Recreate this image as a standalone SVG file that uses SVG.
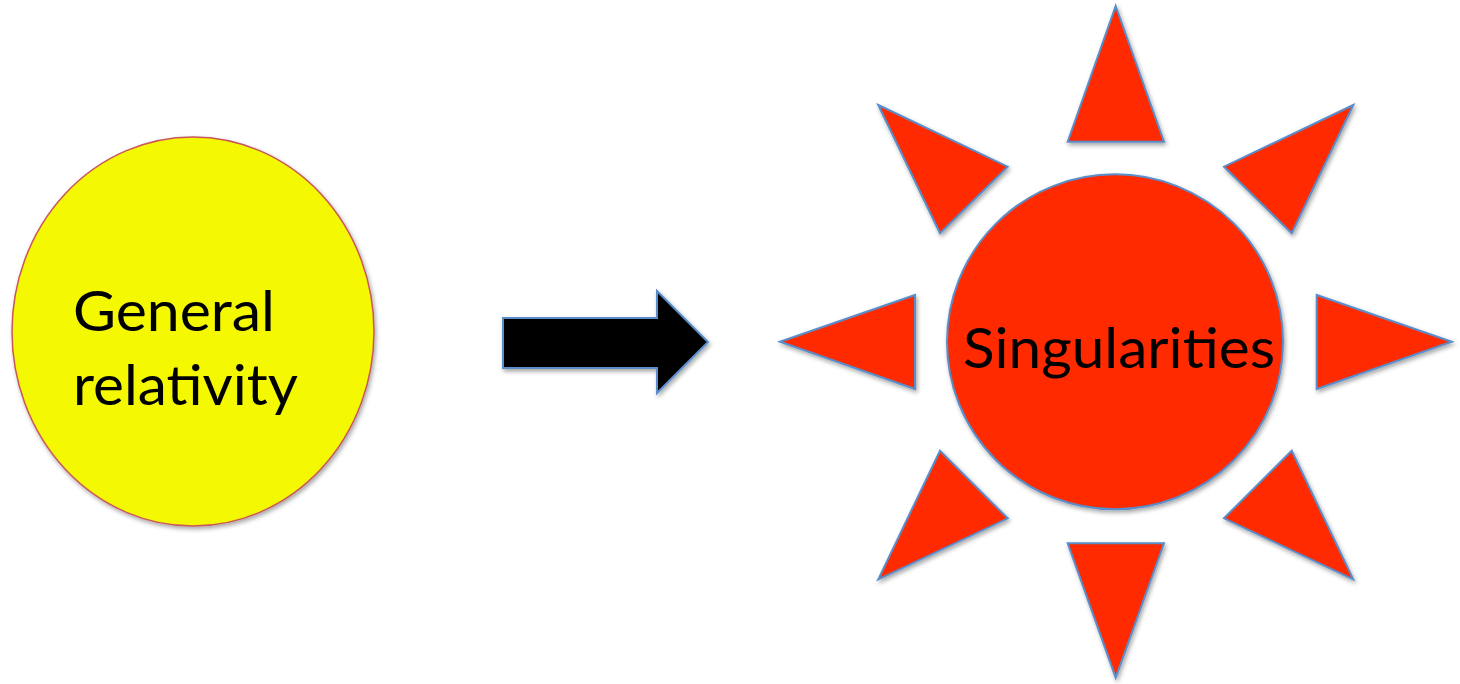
<svg xmlns="http://www.w3.org/2000/svg" width="1460" height="684" viewBox="0 0 1460 684">
  <defs>
    <filter id="shadow" x="-10%" y="-10%" width="130%" height="130%">
      <feDropShadow dx="1.5" dy="2.5" stdDeviation="2" flood-color="#000" flood-opacity="0.35"/>
    </filter>
  </defs>
  <style>
    .ray { fill: #ff2a00; stroke: #5a8ecb; stroke-width: 2; stroke-linejoin: miter; filter: url(#shadow); }
    .lbl { font-family: Lato, "Liberation Sans", Arial, sans-serif; font-size: 57px; fill: #000; }
  </style>
  <rect width="1460" height="684" fill="#ffffff"/>

  <g id="general-relativity">
    <ellipse cx="193" cy="331.5" rx="181" ry="194.5" fill="#f4f800" stroke="#c8575a" stroke-width="1.5" filter="url(#shadow)"/>
    <text class="lbl" x="73" y="331" textLength="202" lengthAdjust="spacingAndGlyphs">General</text>
    <text class="lbl" x="73" y="405" textLength="225" lengthAdjust="spacingAndGlyphs">relativity</text>
  </g>

  <g id="connectors">
    <polygon id="arrow" points="503,318 657,318 657,291 708,342 657,393 657,368 503,368" fill="#000" stroke="#5a8ecb" stroke-width="2" filter="url(#shadow)"/>
  </g>

  <g id="singularities">
    <polygon class="ray" points="1115.7,6 1164,141.7 1067.7,141.7"/>
    <polygon class="ray" points="878.3,105 1007.7,166.7 940,233.3"/>
    <polygon class="ray" points="1353.3,105 1224,166.7 1291.7,233.3"/>
    <polygon class="ray" points="780,341.7 915,295 915,389"/>
    <polygon class="ray" points="1451.7,341.7 1316.7,295 1316.7,389"/>
    <polygon class="ray" points="940,450.7 1007.7,518.3 878.3,579.3"/>
    <polygon class="ray" points="1291.7,450.7 1224,518.3 1353.3,579.3"/>
    <polygon class="ray" points="1067.7,543.3 1164,543.3 1115.7,677.7"/>
    <ellipse class="ray" cx="1115" cy="341.8" rx="168" ry="167.5"/>
    <text class="lbl" x="963" y="368" textLength="312" lengthAdjust="spacingAndGlyphs">Singularities</text>
  </g>
</svg>
